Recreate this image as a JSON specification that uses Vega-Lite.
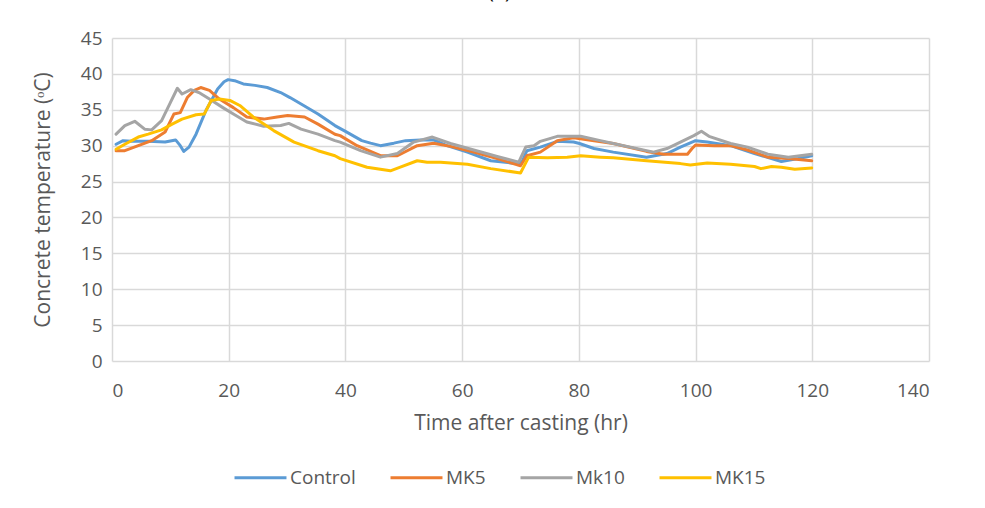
{
  "$schema": "https://vega.github.io/schema/vega-lite/v6.json",
  "width": 817,
  "height": 323,
  "autosize": {"type": "none"},
  "padding": {"left": 112, "top": 38, "right": 56, "bottom": 147},
  "background": "white",
  "title": {"text": "(a)", "fontSize": 20, "fontWeight": "normal", "color": "#000000", "offset": 27, "anchor": "middle", "frame": "group", "dx": -21},
  "config": {
    "font": "Open Sans",
    "view": {"stroke": null},
    "axis": {"gridColor": "#d9d9d9", "gridWidth": 1.5, "domain": false, "ticks": false, "labelColor": "#595959", "titleColor": "#595959", "labelFontSize": 19, "titleFontSize": 21, "titleFontWeight": "normal"},
    "legend": {"labelColor": "#595959", "labelFontSize": 19}
  },
  "data": {"values": [
    {"s":"Control","t":0.7,"v":30.2},{"s":"Control","t":1.9,"v":30.7},{"s":"Control","t":3.3,"v":30.6},{"s":"Control","t":6.2,"v":30.6},{"s":"Control","t":9.1,"v":30.5},{"s":"Control","t":10.9,"v":30.8},{"s":"Control","t":11.7,"v":30.0},{"s":"Control","t":12.3,"v":29.2},{"s":"Control","t":13.2,"v":29.8},{"s":"Control","t":14.4,"v":31.6},{"s":"Control","t":16.1,"v":34.9},{"s":"Control","t":18.1,"v":37.9},{"s":"Control","t":19.2,"v":38.9},{"s":"Control","t":19.9,"v":39.2},{"s":"Control","t":21,"v":39.05},{"s":"Control","t":22.5,"v":38.6},{"s":"Control","t":24.5,"v":38.4},{"s":"Control","t":26.6,"v":38.1},{"s":"Control","t":28.9,"v":37.4},{"s":"Control","t":30.5,"v":36.7},{"s":"Control","t":32.4,"v":35.8},{"s":"Control","t":35.3,"v":34.4},{"s":"Control","t":38.2,"v":32.8},{"s":"Control","t":40,"v":32.0},{"s":"Control","t":42.8,"v":30.7},{"s":"Control","t":44.3,"v":30.35},{"s":"Control","t":46,"v":30.0},{"s":"Control","t":48.3,"v":30.35},{"s":"Control","t":50.3,"v":30.7},{"s":"Control","t":52.9,"v":30.8},{"s":"Control","t":55.1,"v":30.8},{"s":"Control","t":57.4,"v":30.0},{"s":"Control","t":60.9,"v":29.1},{"s":"Control","t":64.9,"v":27.9},{"s":"Control","t":69.4,"v":27.5},{"s":"Control","t":70.3,"v":27.8},{"s":"Control","t":71.1,"v":29.3},{"s":"Control","t":73.4,"v":29.8},{"s":"Control","t":76.3,"v":30.6},{"s":"Control","t":79.1,"v":30.5},{"s":"Control","t":80.1,"v":30.3},{"s":"Control","t":82.6,"v":29.6},{"s":"Control","t":85.9,"v":29.1},{"s":"Control","t":91.6,"v":28.4},{"s":"Control","t":95.1,"v":28.9},{"s":"Control","t":97.4,"v":29.8},{"s":"Control","t":100,"v":30.7},{"s":"Control","t":102,"v":30.5},{"s":"Control","t":106,"v":30.0},{"s":"Control","t":110.1,"v":28.9},{"s":"Control","t":114.7,"v":27.8},{"s":"Control","t":117.6,"v":28.2},{"s":"Control","t":119.9,"v":28.6},
    {"s":"MK5","t":0.7,"v":29.3},{"s":"MK5","t":2.2,"v":29.3},{"s":"MK5","t":4.5,"v":30.0},{"s":"MK5","t":6.8,"v":30.7},{"s":"MK5","t":9.1,"v":31.9},{"s":"MK5","t":10.6,"v":34.4},{"s":"MK5","t":11.7,"v":34.6},{"s":"MK5","t":12.9,"v":36.7},{"s":"MK5","t":14.1,"v":37.7},{"s":"MK5","t":15.2,"v":38.1},{"s":"MK5","t":16.7,"v":37.7},{"s":"MK5","t":18.4,"v":36.5},{"s":"MK5","t":20.8,"v":35.3},{"s":"MK5","t":23.1,"v":34.0},{"s":"MK5","t":26,"v":33.7},{"s":"MK5","t":28.3,"v":34.0},{"s":"MK5","t":30.1,"v":34.2},{"s":"MK5","t":33,"v":34.0},{"s":"MK5","t":35.3,"v":33.0},{"s":"MK5","t":38.2,"v":31.6},{"s":"MK5","t":39.1,"v":31.4},{"s":"MK5","t":42,"v":30.0},{"s":"MK5","t":46,"v":28.6},{"s":"MK5","t":48.9,"v":28.6},{"s":"MK5","t":52.3,"v":30.0},{"s":"MK5","t":55.1,"v":30.35},{"s":"MK5","t":58,"v":29.9},{"s":"MK5","t":62,"v":29.1},{"s":"MK5","t":66,"v":28.2},{"s":"MK5","t":70,"v":27.2},{"s":"MK5","t":71.1,"v":28.6},{"s":"MK5","t":73.4,"v":29.1},{"s":"MK5","t":76.3,"v":30.7},{"s":"MK5","t":79.1,"v":31.1},{"s":"MK5","t":82.6,"v":30.7},{"s":"MK5","t":85.9,"v":30.3},{"s":"MK5","t":91.6,"v":29.2},{"s":"MK5","t":94.5,"v":28.8},{"s":"MK5","t":98.6,"v":28.8},{"s":"MK5","t":99.4,"v":29.6},{"s":"MK5","t":100,"v":30.1},{"s":"MK5","t":103.2,"v":30.0},{"s":"MK5","t":106,"v":30.0},{"s":"MK5","t":108.9,"v":29.4},{"s":"MK5","t":112.4,"v":28.4},{"s":"MK5","t":115.9,"v":28.2},{"s":"MK5","t":119.9,"v":27.9},
    {"s":"Mk10","t":0.7,"v":31.6},{"s":"Mk10","t":2.2,"v":32.8},{"s":"Mk10","t":3.9,"v":33.4},{"s":"Mk10","t":5.6,"v":32.3},{"s":"Mk10","t":6.8,"v":32.2},{"s":"Mk10","t":8.5,"v":33.5},{"s":"Mk10","t":10,"v":36.0},{"s":"Mk10","t":11.2,"v":38.0},{"s":"Mk10","t":12,"v":37.2},{"s":"Mk10","t":13.5,"v":37.8},{"s":"Mk10","t":14.9,"v":37.4},{"s":"Mk10","t":16.7,"v":36.5},{"s":"Mk10","t":19,"v":35.3},{"s":"Mk10","t":20.8,"v":34.4},{"s":"Mk10","t":23.1,"v":33.3},{"s":"Mk10","t":26,"v":32.7},{"s":"Mk10","t":28.9,"v":32.8},{"s":"Mk10","t":30.3,"v":33.1},{"s":"Mk10","t":32.4,"v":32.3},{"s":"Mk10","t":35.3,"v":31.6},{"s":"Mk10","t":38.2,"v":30.7},{"s":"Mk10","t":39.1,"v":30.5},{"s":"Mk10","t":42.6,"v":29.3},{"s":"Mk10","t":46,"v":28.4},{"s":"Mk10","t":48.9,"v":28.9},{"s":"Mk10","t":51.7,"v":30.5},{"s":"Mk10","t":54.9,"v":31.2},{"s":"Mk10","t":58,"v":30.3},{"s":"Mk10","t":62,"v":29.4},{"s":"Mk10","t":66,"v":28.5},{"s":"Mk10","t":69.7,"v":27.7},{"s":"Mk10","t":70.9,"v":29.8},{"s":"Mk10","t":72.3,"v":30.0},{"s":"Mk10","t":73.4,"v":30.6},{"s":"Mk10","t":76.3,"v":31.3},{"s":"Mk10","t":80.3,"v":31.3},{"s":"Mk10","t":83.7,"v":30.7},{"s":"Mk10","t":85.9,"v":30.3},{"s":"Mk10","t":92.8,"v":29.1},{"s":"Mk10","t":95.1,"v":29.6},{"s":"Mk10","t":97.4,"v":30.5},{"s":"Mk10","t":99.7,"v":31.4},{"s":"Mk10","t":101,"v":32.0},{"s":"Mk10","t":102.3,"v":31.3},{"s":"Mk10","t":106,"v":30.3},{"s":"Mk10","t":108.9,"v":29.8},{"s":"Mk10","t":112.4,"v":28.8},{"s":"Mk10","t":115.9,"v":28.4},{"s":"Mk10","t":119.9,"v":28.8},
    {"s":"MK15","t":0.7,"v":29.5},{"s":"MK15","t":2.2,"v":30.2},{"s":"MK15","t":4.5,"v":31.2},{"s":"MK15","t":6.2,"v":31.6},{"s":"MK15","t":8.5,"v":32.2},{"s":"MK15","t":10.3,"v":33.0},{"s":"MK15","t":12,"v":33.7},{"s":"MK15","t":14.4,"v":34.3},{"s":"MK15","t":15.8,"v":34.4},{"s":"MK15","t":17,"v":36.3},{"s":"MK15","t":18.4,"v":36.5},{"s":"MK15","t":20.2,"v":36.3},{"s":"MK15","t":21.9,"v":35.6},{"s":"MK15","t":24.2,"v":34.0},{"s":"MK15","t":27.7,"v":32.1},{"s":"MK15","t":31.2,"v":30.5},{"s":"MK15","t":35.3,"v":29.3},{"s":"MK15","t":38.2,"v":28.6},{"s":"MK15","t":39.1,"v":28.2},{"s":"MK15","t":43.7,"v":27.0},{"s":"MK15","t":47.7,"v":26.5},{"s":"MK15","t":49.4,"v":27.0},{"s":"MK15","t":52.3,"v":27.9},{"s":"MK15","t":54,"v":27.7},{"s":"MK15","t":56.3,"v":27.7},{"s":"MK15","t":60.9,"v":27.4},{"s":"MK15","t":64.9,"v":26.8},{"s":"MK15","t":70,"v":26.2},{"s":"MK15","t":71.4,"v":28.4},{"s":"MK15","t":74.6,"v":28.3},{"s":"MK15","t":78,"v":28.4},{"s":"MK15","t":80.3,"v":28.6},{"s":"MK15","t":83.7,"v":28.4},{"s":"MK15","t":85.9,"v":28.3},{"s":"MK15","t":91.6,"v":27.9},{"s":"MK15","t":97.4,"v":27.5},{"s":"MK15","t":99.1,"v":27.3},{"s":"MK15","t":102,"v":27.6},{"s":"MK15","t":106,"v":27.4},{"s":"MK15","t":110.1,"v":27.1},{"s":"MK15","t":111.2,"v":26.8},{"s":"MK15","t":113,"v":27.1},{"s":"MK15","t":114.7,"v":27.0},{"s":"MK15","t":117,"v":26.7},{"s":"MK15","t":119.9,"v":26.9}
  ]},
  "mark": {"type": "line", "strokeWidth": 3, "strokeCap": "round", "strokeJoin": "round"},
  "encoding": {
    "x": {"field": "t", "type": "quantitative", "title": "Time after casting (hr)", "scale": {"domain": [0, 140], "nice": false}, "axis": {"values": [0, 20, 40, 60, 80, 100, 120, 140], "labelPadding": 20, "titlePadding": 12}},
    "y": {"field": "v", "type": "quantitative", "title": "Concrete temperature (ᵒC)", "scale": {"domain": [0, 45], "nice": false}, "axis": {"values": [0, 5, 10, 15, 20, 25, 30, 35, 40, 45], "labelPadding": 10, "titlePadding": 27}},
    "color": {"field": "s", "type": "nominal", "sort": ["Control", "MK5", "Mk10", "MK15"], "scale": {"domain": ["Control", "MK5", "Mk10", "MK15"], "range": ["#5B9BD5", "#ED7D31", "#A5A5A5", "#FFC000"]}, "legend": {"title": null, "orient": "none", "legendX": 121, "legendY": 412, "direction": "horizontal", "symbolType": "stroke", "symbolSize": 2700, "symbolStrokeWidth": 3, "columnPadding": 28, "labelOffset": 2}}
  }
}
